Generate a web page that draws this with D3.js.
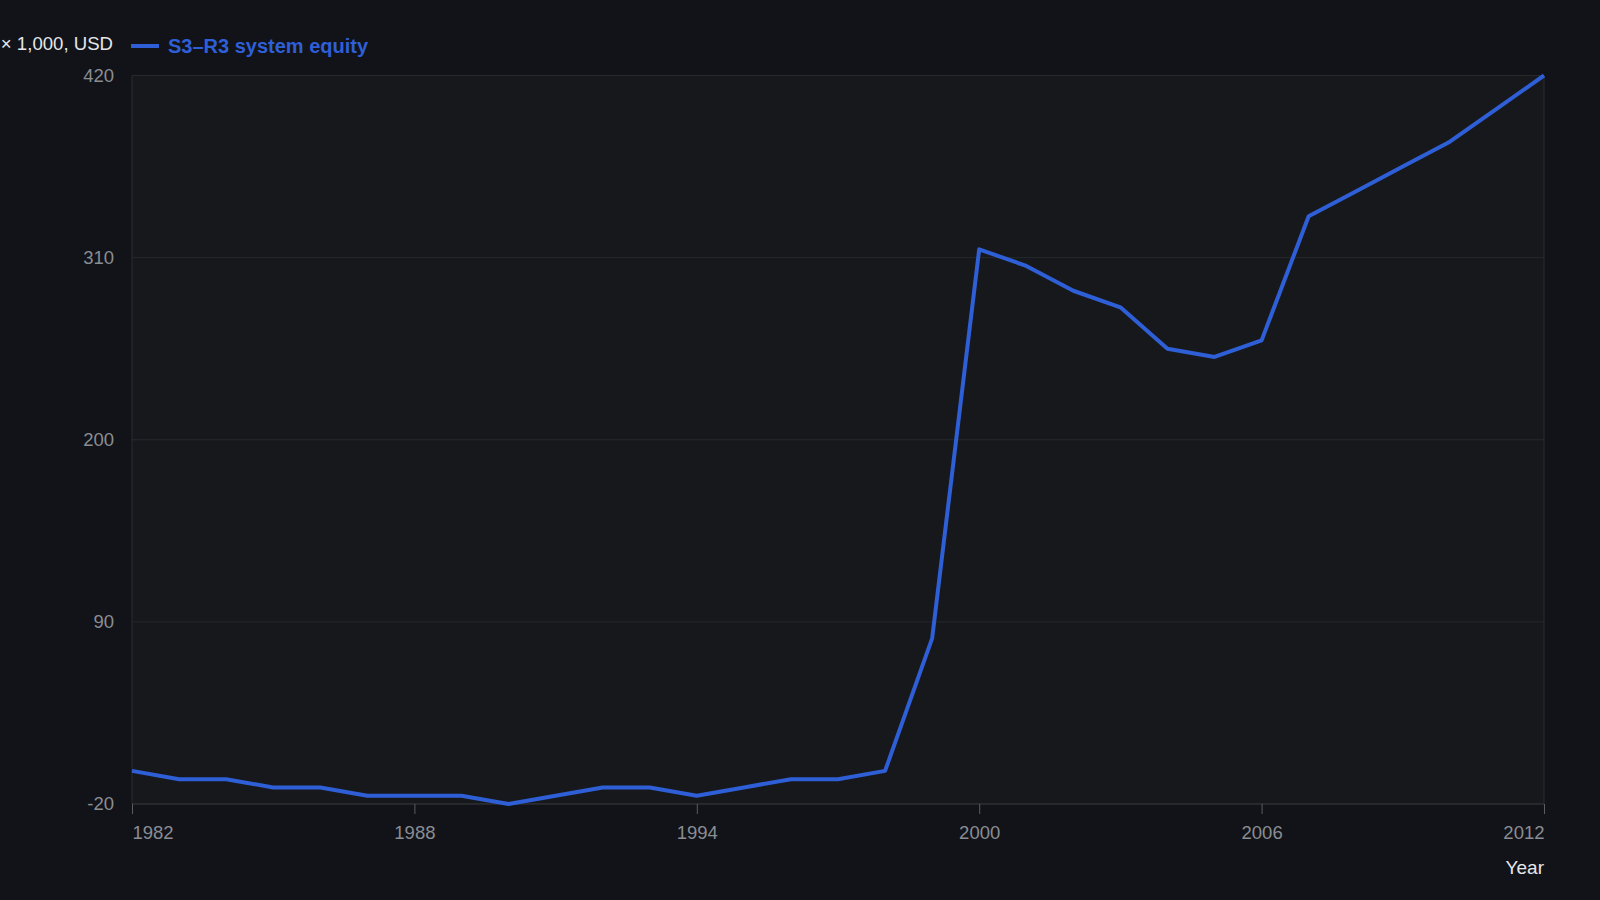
<!DOCTYPE html>
<html><head><meta charset="utf-8">
<script src="https://cdn.jsdelivr.net/npm/d3@7"></script>
<style>
html,body{margin:0;padding:0;background:#111318;}
svg{display:block;font-family:"Liberation Sans",Arial,sans-serif;}
</style></head>
<body><svg id="c" width="1600" height="900"></svg>
<script>
const years = d3.range(1982, 2013);
const equity = [0,-5,-5,-10,-10,-15,-15,-15,-20,-15,-10,-10,-15,-10,-5,-5,0,80,315,305,290,280,255,250,260,335,350,365,380,400,420];
const yTicks = [-20,90,200,310,420];
const xTicks = [1982,1988,1994,2000,2006,2012];
const seriesName = "S3\u2013R3 system equity";
const unitLabel = "\u00d7 1,000, USD";
const xLabel = "Year";

const svg = d3.select("#c");
const m = {l:132, r:1544, t:75.5, b:804};
const x = d3.scaleLinear().domain([1982,2012]).range([m.l,m.r]);
const y = d3.scaleLinear().domain([-20,420]).range([m.b,m.t]);

svg.append("rect").attr("width",1600).attr("height",900).attr("fill","#111318");
svg.append("rect").attr("x",m.l).attr("y",m.t).attr("width",m.r-m.l).attr("height",m.b-m.t).attr("fill","#16181c");

// gridlines
svg.append("g").selectAll("line").data(yTicks).join("line")
  .attr("x1",m.l).attr("x2",m.r).attr("y1",d=>y(d)).attr("y2",d=>y(d))
  .attr("stroke",d=>d===-20?"#3a3c40":"#26282c").attr("stroke-width",1);
// frame sides
svg.append("line").attr("x1",m.l).attr("x2",m.l).attr("y1",m.t).attr("y2",m.b).attr("stroke","#2a2c30");
svg.append("line").attr("x1",m.r).attr("x2",m.r).attr("y1",m.t).attr("y2",m.b).attr("stroke","#2a2c30");

// y axis labels
const ya = svg.append("g").attr("transform",`translate(${m.l},0)`)
  .call(d3.axisLeft(y).tickValues(yTicks).tickSize(0).tickPadding(18).tickFormat(d=>String(d)));
ya.select(".domain").remove();
ya.selectAll("text").attr("fill","#8a8d93").attr("font-size",18.5).attr("font-family","Liberation Sans, Arial, sans-serif");

// x axis
const xa = svg.append("g").attr("transform",`translate(0,${m.b})`)
  .call(d3.axisBottom(x).tickValues(xTicks).tickSize(10).tickPadding(12).tickFormat(d=>String(d)));
xa.select(".domain").remove();
xa.selectAll("line").attr("stroke","#5a5d62");
xa.selectAll("text").attr("fill","#8a8d93").attr("font-size",18.5).attr("font-family","Liberation Sans, Arial, sans-serif")
  .attr("text-anchor",d=>d===1982?"start":(d===2012?"end":"middle"));

svg.append("text").attr("x",m.r).attr("y",874).attr("text-anchor","end")
  .attr("fill","#e6e7ea").attr("font-size",19).text(xLabel);

// unit label + legend
svg.append("text").attr("x",113).attr("y",50).attr("text-anchor","end")
  .attr("fill","#e6e7ea").attr("font-size",18.6).text(unitLabel);
svg.append("line").attr("x1",131).attr("x2",159).attr("y1",46).attr("y2",46)
  .attr("stroke","#2f5fd6").attr("stroke-width",4);
svg.append("text").attr("x",168).attr("y",53).attr("fill","#2f5fd6")
  .attr("font-size",20).attr("font-weight","bold").text(seriesName);

// line
const line = d3.line().x((d,i)=>x(years[i])).y(d=>y(d));
svg.append("path").datum(equity).attr("d",line).attr("fill","none")
  .attr("stroke","#2f5fd6").attr("stroke-width",4).attr("stroke-linejoin","round");
</script></body></html>
